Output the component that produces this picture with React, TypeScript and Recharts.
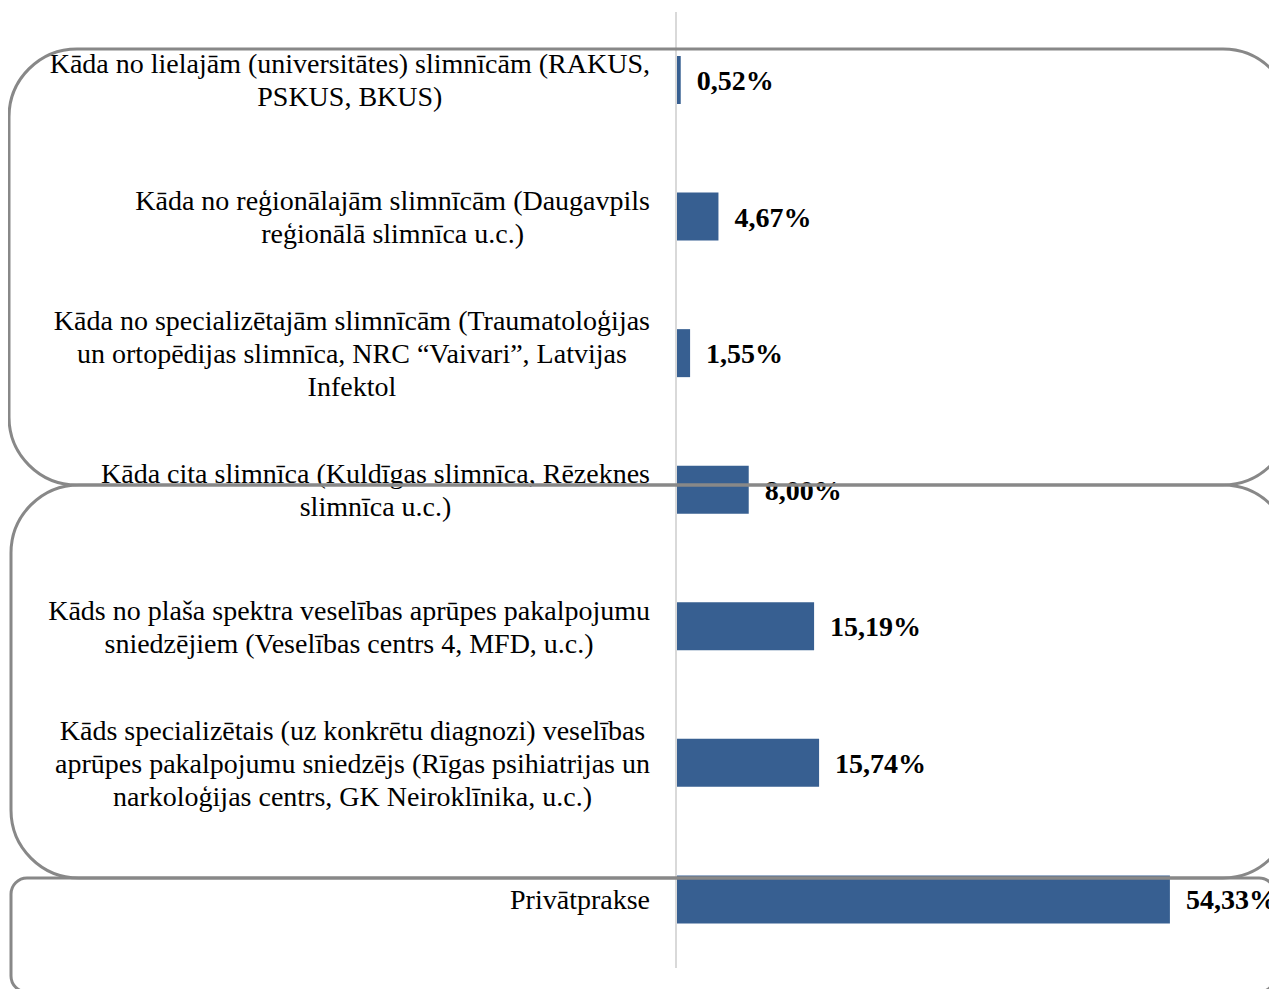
import React from 'react';
import { BarChart, Bar, XAxis, YAxis, LabelList } from 'recharts';

const categories = [
  'Kāda no lielajām (universitātes) slimnīcām (RAKUS,\nPSKUS, BKUS)',
  'Kāda no reģionālajām slimnīcām (Daugavpils\nreģionālā slimnīca u.c.)',
  'Kāda no specializētajām slimnīcām (Traumatoloģijas\nun ortopēdijas slimnīca, NRC “Vaivari”, Latvijas\nInfektol',
  'Kāda cita slimnīca (Kuldīgas slimnīca, Rēzeknes\nslimnīca u.c.)',
  'Kāds no plaša spektra veselības aprūpes pakalpojumu\nsniedzējiem (Veselības centrs 4, MFD, u.c.)',
  'Kāds specializētais (uz konkrētu diagnozi) veselības\naprūpes pakalpojumu sniedzējs (Rīgas psihiatrijas un\nnarkoloģijas centrs, GK Neiroklīnika, u.c.)',
  'Privātprakse',
];
const shares = [0.52, 4.67, 1.55, 8.0, 15.19, 15.74, 54.33];

const data = categories.map((name, i) => ({ name, value: shares[i] }));

const FONT = "'Liberation Serif', 'Times New Roman', serif";
const LABEL_SIZE = 28;
const LINE_H = 33;

let ctx: CanvasRenderingContext2D | null = null;
function textWidth(s: string) {
  if (!ctx) ctx = document.createElement('canvas').getContext('2d');
  if (!ctx) return s.length * 12;
  ctx.font = `${LABEL_SIZE}px ${FONT}`;
  return ctx.measureText(s).width;
}

function CategoryTick({ x, y, payload }: any) {
  const lines = String(payload.value).split('\n');
  const maxW = Math.max(...lines.map(textWidth));
  const right = x - 18;
  const cx = right - maxW / 2;
  return (
    <g>
      {lines.map((ln, i) => (
        <text
          key={i}
          x={cx}
          y={y + (i - (lines.length - 1) / 2) * LINE_H}
          textAnchor="middle"
          dominantBaseline="central"
          fontFamily={FONT}
          fontSize={LABEL_SIZE}
          fill="#000"
        >
          {ln}
        </text>
      ))}
    </g>
  );
}

const fmt = (v: any) => `${Number(v).toFixed(2).replace('.', ',')}%`;

export default function App() {
  return (
    <div style={{ position: 'relative', width: 1269, height: 981 }}>
      <style>{'html, body { overflow: hidden; }'}</style>
      <BarChart
        width={1269}
        height={981}
        data={data}
        layout="vertical"
        margin={{ top: 4, right: 101, bottom: 21, left: 0 }}
      >
        <XAxis type="number" domain={[0, 55]} hide />
        <YAxis
          type="category"
          dataKey="name"
          width={668}
          axisLine={{ stroke: '#d9d9d9', strokeWidth: 2 }}
          tickLine={false}
          tick={<CategoryTick />}
          interval={0}
        />
        <Bar dataKey="value" fill="#375F91" barSize={48} isAnimationActive={false}>
          <LabelList
            dataKey="value"
            position="right"
            offset={16}
            formatter={fmt}
            fill="#000"
            fontFamily={FONT}
            fontWeight="bold"
            fontSize={28}
          />
        </Bar>
      </BarChart>
      <svg
        width={1277}
        height={989}
        style={{ position: 'absolute', left: -8, top: -8, pointerEvents: 'none' }}
      >
        <g fill="none" stroke="#888888" strokeWidth={3}>
          <rect x={9} y={49} width={1282} height={436} rx={68} />
          <rect x={11} y={485} width={1280} height={393} rx={68} />
          <rect x={11} y={878} width={1264} height={114} rx={16} />
        </g>
      </svg>
    </div>
  );
}
